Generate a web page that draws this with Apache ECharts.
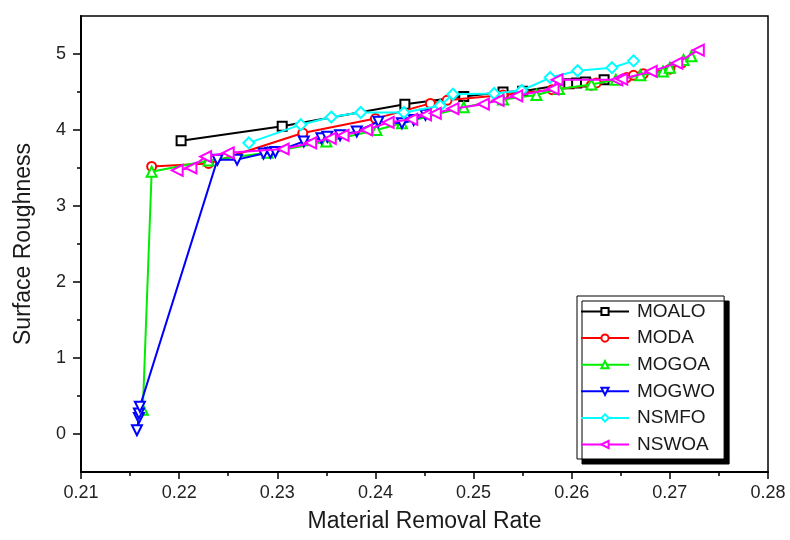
<!DOCTYPE html>
<html>
<head>
<meta charset="utf-8">
<script src="https://cdn.jsdelivr.net/npm/echarts@6/dist/echarts.min.js"></script>
<style>
html,body{margin:0;padding:0;background:#fff;}
#c{width:790px;height:540px;}
</style>
</head>
<body>
<div id="c"></div>
<script>
// ---- data ----
const seriesNames = ['MOALO', 'MODA', 'MOGOA', 'MOGWO', 'NSMFO', 'NSWOA'];

const moaloX = [0.2202, 0.2305, 0.2430, 0.2490, 0.2530, 0.2550, 0.2597, 0.2605, 0.2614, 0.2633];
const moaloY = [3.86, 4.05, 4.34, 4.44, 4.50, 4.51, 4.61, 4.62, 4.63, 4.66];

const modaX = [0.2172, 0.2230, 0.2326, 0.2400, 0.2456, 0.2473, 0.2530, 0.2580, 0.2620, 0.2625, 0.2656, 0.2663, 0.2673, 0.2700, 0.2712];
const modaY = [3.52, 3.56, 3.96, 4.15, 4.35, 4.39, 4.46, 4.53, 4.59, 4.62, 4.69, 4.72, 4.74, 4.80, 4.88];

const mogoaX = [0.2163, 0.2172, 0.2230, 0.2290, 0.2350, 0.2401, 0.2427, 0.2490, 0.2530, 0.2564, 0.2587, 0.2620, 0.2645, 0.2670, 0.2693, 0.2700, 0.2714, 0.2722];
const mogoaY = [0.32, 3.45, 3.60, 3.70, 3.85, 4.00, 4.09, 4.30, 4.40, 4.46, 4.54, 4.60, 4.66, 4.72, 4.77, 4.82, 4.92, 4.97];

const mogwoX = [0.2157, 0.2159, 0.2159, 0.2160, 0.2239, 0.2259, 0.2286, 0.2293, 0.2298, 0.2327, 0.2345, 0.2351, 0.2364, 0.2381, 0.2403, 0.2427, 0.2439, 0.2451];
const mogwoY = [0.05, 0.21, 0.27, 0.36, 3.61, 3.61, 3.69, 3.70, 3.71, 3.85, 3.89, 3.91, 3.93, 3.98, 4.11, 4.09, 4.13, 4.20];

const nsmfoX = [0.2271, 0.2324, 0.2355, 0.2385, 0.2429, 0.2466, 0.2479, 0.2521, 0.2549, 0.2578, 0.2606, 0.2641, 0.2663];
const nsmfoY = [3.83, 4.07, 4.17, 4.23, 4.23, 4.32, 4.47, 4.48, 4.52, 4.69, 4.78, 4.82, 4.91];

const nswoaX = [0.2198, 0.2212, 0.2227, 0.2250, 0.2306, 0.2334, 0.2354, 0.2367, 0.2391, 0.2413, 0.2437, 0.2451, 0.2461, 0.2479, 0.2510, 0.2525, 0.2544, 0.2581, 0.2585, 0.2646, 0.2651, 0.2681, 0.2707, 0.2729];
const nswoaY = [3.47, 3.50, 3.65, 3.70, 3.75, 3.83, 3.89, 3.93, 4.00, 4.10, 4.14, 4.20, 4.22, 4.28, 4.34, 4.39, 4.45, 4.54, 4.66, 4.66, 4.67, 4.77, 4.88, 5.05];

const xTickLabels = ['0.21', '0.22', '0.23', '0.24', '0.25', '0.26', '0.27', '0.28'];
const yTickLabels = [0, 1, 2, 3, 4, 5];
const yHalfTicks = [0.5, 1.5, 2.5, 3.5, 4.5];

// ---- styling ----
const colors = ['#000000', '#ff0000', '#00ee00', '#0000ff', '#00ffff', '#ff00ff'];
const symbols = ['emptyRect', 'emptyCircle', 'emptyTriangle', 'emptyTriangle', 'emptyDiamond', 'emptyTriangle'];
const rotates = [0, 0, 0, 180, 0, 90];
const sizes = [9, 9, 10, 10, 11, 11];
const xs = [moaloX, modaX, mogoaX, mogwoX, nsmfoX, nswoaX];
const ys = [moaloY, modaY, mogoaY, mogwoY, nsmfoY, nswoaY];

const FONT = '"Liberation Sans", Arial, sans-serif';

const series = seriesNames.map((name, i) => ({
  name: name,
  type: 'line',
  data: xs[i].map((x, j) => [x, ys[i][j]]),
  symbol: symbols[i],
  symbolRotate: rotates[i],
  symbolSize: sizes[i],
  showAllSymbol: true,
  lineStyle: { color: colors[i], width: 2 },
  itemStyle: { color: colors[i], borderColor: colors[i], borderWidth: 2 },
  emphasis: { disabled: true },
  z: 2 + i
}));

const chart = echarts.init(document.getElementById('c'), null, { renderer: 'canvas' });
chart.setOption({
  animation: false,
  backgroundColor: '#ffffff',
  grid: {
    left: 81, right: 22, top: 16, bottom: 68,
    show: true, borderColor: '#000', borderWidth: 1.5, backgroundColor: 'transparent'
  },
  legend: {
    orient: 'vertical',
    left: 577, top: 296,
    data: seriesNames,
    itemWidth: 48, itemHeight: 9, itemGap: 7.6,
    padding: [6, 9, 5, 3],
    backgroundColor: '#fff',
    borderColor: '#000', borderWidth: 1,
    shadowColor: '#000', shadowBlur: 0, shadowOffsetX: 5, shadowOffsetY: 5,
    symbolRotate: 'inherit',
    textStyle: { fontFamily: FONT, fontSize: 19, color: '#1a1a1a', lineHeight: 19, padding: [0, 0, 0, 3] }
  },
  xAxis: {
    type: 'value',
    min: 0.21, max: 0.28, interval: 0.01,
    name: 'Material Removal Rate',
    nameLocation: 'middle', nameGap: 38,
    nameTextStyle: { fontFamily: FONT, fontSize: 23, color: '#1a1a1a' },
    axisLine: { show: true, onZero: false, lineStyle: { color: '#000', width: 2 } },
    axisTick: { show: true, length: 7, lineStyle: { color: '#000', width: 1.5 } },
    minorTick: { show: true, splitNumber: 2, length: 4, lineStyle: { color: '#000', width: 1.5 } },
    splitLine: { show: false },
    minorSplitLine: { show: false },
    axisLabel: {
      fontFamily: FONT, fontSize: 18, color: '#222', margin: 12,
      formatter: v => { const k = Math.round((v - 0.21) / 0.01); return xTickLabels[k] !== undefined ? xTickLabels[k] : ''; }
    }
  },
  yAxis: [{
    type: 'value',
    min: -0.5, max: 5.5, interval: 0.5,
    name: 'Surface Roughness',
    nameLocation: 'middle', nameGap: 46,
    nameTextStyle: { fontFamily: FONT, fontSize: 23, color: '#1a1a1a' },
    axisLine: { show: true, onZero: false, lineStyle: { color: '#000', width: 2 } },
    axisTick: { show: true, length: 8, customValues: yTickLabels, lineStyle: { color: '#000', width: 1.5 } },
    splitLine: { show: false },
    axisLabel: {
      fontFamily: FONT, fontSize: 18, color: '#222', margin: 15,
      customValues: yTickLabels,
      formatter: v => String(Math.round(v))
    }
  }, {
    type: 'value',
    position: 'left',
    min: -0.5, max: 5.5, interval: 0.5,
    axisLine: { show: false },
    axisTick: { show: true, length: 4, customValues: yHalfTicks, lineStyle: { color: '#000', width: 1.5 } },
    axisLabel: { show: false },
    splitLine: { show: false }
  }],
  series: series
});
</script>
</body>
</html>
